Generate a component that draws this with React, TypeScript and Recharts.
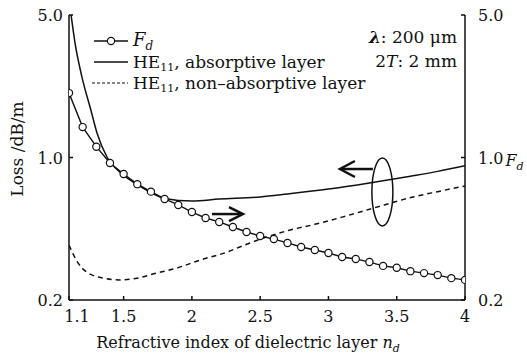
import React from 'react';
import { LineChart, Line, XAxis, YAxis, ReferenceDot } from 'recharts';

// F_d (right axis), sampled every 0.1
const fdN = [1.1, 1.2, 1.3, 1.4, 1.5, 1.6, 1.7, 1.8, 1.9, 2.0, 2.1, 2.2, 2.3, 2.4, 2.5, 2.6, 2.7, 2.8, 2.9, 3.0, 3.1, 3.2, 3.3, 3.4, 3.5, 3.6, 3.7, 3.8, 3.9, 4.0];
const fdVal = [2.07, 1.41, 1.13, 0.94, 0.83, 0.74, 0.68, 0.626, 0.585, 0.54, 0.505, 0.483, 0.456, 0.431, 0.412, 0.398, 0.381, 0.364, 0.352, 0.34, 0.325, 0.318, 0.307, 0.294, 0.288, 0.277, 0.271, 0.265, 0.256, 0.251];

// HE11, absorptive layer
const absN = [1.1, 1.115, 1.144, 1.195, 1.26, 1.305, 1.38, 1.48, 1.58, 1.67, 1.8, 2.0, 2.2, 2.5, 2.7, 3.0, 3.3, 3.6, 3.8, 4.0];
const absVal = [5.9, 5.0, 3.65, 2.48, 1.71, 1.32, 1.0, 0.84, 0.75, 0.69, 0.63, 0.612, 0.625, 0.64, 0.662, 0.7, 0.75, 0.81, 0.855, 0.91];

// HE11, non-absorptive layer
const nonN = [1.1, 1.166, 1.23, 1.35, 1.47, 1.6, 1.74, 1.89, 2.06, 2.26, 2.35, 2.55, 2.72, 2.9, 3.1, 3.33, 3.62, 3.8, 4.0];
const nonVal = [0.372, 0.304, 0.274, 0.256, 0.251, 0.256, 0.271, 0.287, 0.314, 0.344, 0.364, 0.408, 0.441, 0.47, 0.51, 0.565, 0.64, 0.68, 0.725];

const xTicks = [1.1, 1.5, 2, 2.5, 3, 3.5, 4];
const yTicks = [0.2, 1, 5];

const fdData = fdN.map((n, i) => ({ n, v: fdVal[i] }));
const absData = absN.map((n, i) => ({ n, v: absVal[i] }));
const nonData = nonN.map((n, i) => ({ n, v: nonVal[i] }));

const SERIF = "'DejaVu Serif', 'Liberation Serif', serif";
const INK = '#111';
const txt = { fontFamily: SERIF };

function XTick(props: any) {
  const { x, y, payload } = props;
  const v = payload.value;
  return (
    <text x={x + (v === 1.1 ? 8 : 0)} y={y} dy={14} textAnchor="middle" style={txt} fontSize={16} fill={INK}>
      {String(v)}
    </text>
  );
}

function LeftTick(props: any) {
  const { x, y, payload } = props;
  return (
    <text x={x} y={y} dy={6} textAnchor="end" style={txt} fontSize={16} fill={INK}>
      {Number(payload.value).toFixed(1)}
    </text>
  );
}

function RightTick(props: any) {
  const { x, y, payload } = props;
  return (
    <text x={x} y={y} dy={6} textAnchor="start" style={txt} fontSize={16} fill={INK}>
      {Number(payload.value).toFixed(1)}
      {payload.value === 1 ? (
        <>
          <tspan fontStyle="italic" dx={2} dy={2}>F</tspan>
          <tspan fontStyle="italic" fontSize={11} dy={4}>d</tspan>
        </>
      ) : null}
    </text>
  );
}

const LeftArrow = (p: any) => (
  <g>
    <line x1={p.cx + 2} y1={p.cy} x2={p.cx + 33} y2={p.cy} stroke={INK} strokeWidth={2.5} />
    <path d={`M${p.cx + 15},${p.cy - 8} L${p.cx},${p.cy} L${p.cx + 15},${p.cy + 8}`} fill="none" stroke={INK} strokeWidth={2.5} />
  </g>
);

const RightArrow = (p: any) => (
  <g>
    <line x1={p.cx - 31} y1={p.cy} x2={p.cx - 2} y2={p.cy} stroke={INK} strokeWidth={2.5} />
    <path d={`M${p.cx - 14},${p.cy - 7} L${p.cx},${p.cy} L${p.cx - 14},${p.cy + 7}`} fill="none" stroke={INK} strokeWidth={2.5} />
  </g>
);

const Ellipse = (p: any) => <ellipse cx={p.cx} cy={p.cy} rx={10.5} ry={34} fill="none" stroke={INK} strokeWidth={1.5} />;

export default function App() {
  return (
    <div style={{ position: 'absolute', left: 0, top: 0, width: 527, height: 356, background: '#fff' }}>
      <LineChart width={527} height={356} margin={{ top: 15, right: 0, bottom: 0, left: 0 }}>
        <XAxis
          xAxisId="bottom"
          dataKey="n"
          type="number"
          domain={[1.1, 4]}
          ticks={xTicks}
          allowDataOverflow
          height={56}
          stroke={INK}
          strokeWidth={1.5}
          tickSize={-4}
          tickMargin={12}
          tick={<XTick />}
        />
        <XAxis
          xAxisId="top"
          orientation="top"
          dataKey="n"
          type="number"
          domain={[1.1, 4]}
          ticks={xTicks}
          allowDataOverflow
          height={0}
          stroke={INK}
          strokeWidth={1.5}
          tickSize={-4}
          tick={false}
        />
        <YAxis
          yAxisId="left"
          scale="log"
          domain={[0.2, 5]}
          ticks={yTicks}
          allowDataOverflow
          width={69}
          stroke={INK}
          strokeWidth={1.5}
          tickSize={-4}
          tickMargin={10}
          tick={<LeftTick />}
        />
        <YAxis
          yAxisId="right"
          orientation="right"
          scale="log"
          domain={[0.2, 5]}
          ticks={yTicks}
          allowDataOverflow
          width={62}
          stroke={INK}
          strokeWidth={1.5}
          tickSize={-4}
          tickMargin={17}
          tick={<RightTick />}
        />
        <Line
          data={absData}
          xAxisId="bottom"
          yAxisId="left"
          dataKey="v"
          type="monotone"
          stroke={INK}
          strokeWidth={1.5}
          dot={false}
          isAnimationActive={false}
        />
        <Line
          data={nonData}
          xAxisId="bottom"
          yAxisId="left"
          dataKey="v"
          type="monotone"
          stroke={INK}
          strokeWidth={1.5}
          strokeDasharray="5 4"
          dot={false}
          isAnimationActive={false}
        />
        <Line
          data={fdData}
          xAxisId="bottom"
          yAxisId="right"
          dataKey="v"
          type="linear"
          stroke={INK}
          strokeWidth={1.4}
          dot={{ r: 3.6, fill: '#fff', stroke: INK, strokeWidth: 1.2 }}
          isAnimationActive={false}
        />
        <ReferenceDot xAxisId="bottom" yAxisId="left" x={3.084} y={0.878} shape={LeftArrow} />
        <ReferenceDot xAxisId="bottom" yAxisId="left" x={2.374} y={0.528} shape={RightArrow} />
        <ReferenceDot xAxisId="bottom" yAxisId="left" x={3.395} y={0.678} shape={Ellipse} />
      </LineChart>

      <svg width={527} height={356} style={{ position: 'absolute', left: 0, top: 0, pointerEvents: 'none' }}>
        <g style={txt} fill={INK}>
          {/* legend */}
          <line x1={94} y1={41} x2={128} y2={41} stroke={INK} strokeWidth={1.4} />
          <circle cx={111} cy={41} r={3.6} fill="#fff" stroke={INK} strokeWidth={1.2} />
          <text x={133} y={46} fontSize={18} fontStyle="italic">F<tspan fontSize={12} dy={4}>d</tspan></text>
          <line x1={94} y1={62} x2={128} y2={62} stroke={INK} strokeWidth={1.5} />
          <text x={133} y={68} fontSize={17}>HE<tspan fontSize={11} dy={3}>11</tspan><tspan dy={-3}>, absorptive layer</tspan></text>
          <line x1={92} y1={83} x2={128} y2={83} stroke={INK} strokeWidth={1.2} strokeDasharray="3 2" />
          <text x={133} y={89} fontSize={17}>HE<tspan fontSize={11} dy={3}>11</tspan><tspan dy={-3}>, non–absorptive layer</tspan></text>

          {/* parameters */}
          <text x={457} y={43} fontSize={17} textAnchor="end"><tspan fontWeight="bold" fontStyle="italic">λ</tspan>: 200 μm</text>
          <text x={457} y={67} fontSize={17} textAnchor="end">2<tspan fontStyle="italic">T</tspan>: 2 mm</text>

          {/* axis titles */}
          <text x={248} y={348} fontSize={16} textAnchor="middle">
            Refractive index of dielectric layer <tspan fontStyle="italic">n</tspan><tspan fontStyle="italic" fontSize={11} dy={4}>d</tspan>
          </text>
          <text x={0} y={0} fontSize={17} textAnchor="middle" transform="translate(23,149) rotate(-90)">Loss /dB/m</text>
        </g>
      </svg>
    </div>
  );
}
